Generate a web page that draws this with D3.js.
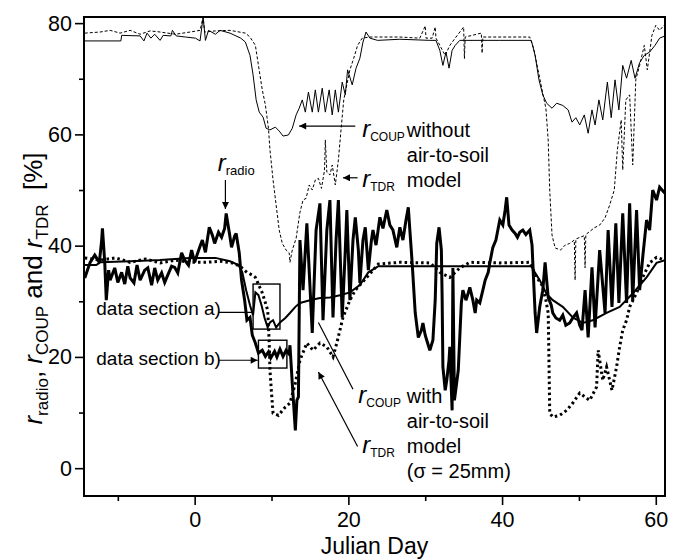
<!DOCTYPE html>
<html>
<head>
<meta charset="utf-8">
<script src="https://cdn.jsdelivr.net/npm/d3@7"></script>
<style>
  body { margin: 0; background: #fff; }
  text { font-family: "Liberation Sans", Arial, sans-serif; fill: #000; }
</style>
</head>
<body>
<div id="chart"></div>
<script>
// tick values
const xMajor = [0, 20, 40, 60], xMinor = [-10, 10, 30, 50];
const yMajor = [0, 20, 40, 60, 80], yMinor = [10, 30, 50, 70];

// r_COUP without air-to-soil model (thin solid, top)
const coupDry = [[-14.3,76.8],[-9.6,76.8],[-9.5,77.8],[-7.1,77.7],[-6.6,76.8],[-6.2,78.2],[-5.7,77.3],[-5.2,78.0],[-4.5,76.9],[-4.1,77.8],[-3.1,77.7],[-2.9,78.7],[-2.4,77.7],[-1.2,77.5],[0.1,77.3],[0.7,76.8],[1.1,81.1],[1.4,76.9],[1.8,78.7],[2.7,78.0],[3.3,78.7],[4.6,78.2],[6.0,77.3],[6.6,76.6],[7.2,74.2],[7.6,70.7],[8.0,66.2],[8.4,64.0],[8.9,63.1],[9.3,61.1],[9.8,60.8],[10.5,61.3],[11.0,60.6],[11.5,59.7],[12.2,59.9],[12.7,61.1],[13.2,63.5],[13.6,64.7],[14.0,66.2],[14.4,64.0],[14.8,67.6],[15.3,64.0],[15.7,68.0],[16.1,64.0],[16.6,68.3],[17.0,64.0],[17.5,68.0],[17.9,63.5],[18.3,68.0],[18.7,64.0],[19.2,69.4],[19.6,67.1],[19.9,71.6],[20.5,68.9],[21.0,71.9],[21.5,73.7],[21.9,76.6],[22.3,78.4],[22.8,77.3],[23.8,76.9],[26.7,77.1],[30.6,76.9],[31.4,76.9],[31.9,75.1],[32.3,72.4],[32.7,74.8],[33.1,71.9],[33.5,75.1],[33.9,76.0],[34.5,76.9],[39.7,76.9],[43.8,76.9],[44.3,74.2],[44.8,69.8],[45.3,67.1],[45.8,65.6],[46.5,64.7],[47.1,65.6],[47.9,65.2],[48.6,64.4],[49.1,62.2],[49.6,63.0],[50.1,61.7],[50.7,63.5],[51.2,60.2],[51.7,64.4],[52.1,61.7],[52.6,66.2],[53.1,62.6],[53.7,69.4],[54.2,63.0],[54.7,69.8],[55.2,64.4],[55.7,72.4],[56.2,70.1],[56.8,73.3],[57.3,70.1],[57.9,72.9],[58.5,74.2],[59.2,74.8],[59.9,76.0],[60.5,77.3],[61.2,77.7]];

// r_TDR (thin dashed, top)
const tdrTop = [[-14.3,78.2],[-12.3,78.4],[-11.0,78.7],[-9.7,78.2],[-8.4,78.7],[-7.1,78.0],[-5.8,78.6],[-4.5,78.4],[-2.5,78.0],[-0.6,78.4],[0.7,78.7],[1.1,81.1],[1.3,78.4],[2.7,78.6],[4.6,78.7],[6.6,78.2],[7.2,77.5],[7.9,76.0],[8.3,72.4],[8.8,68.0],[9.2,65.3],[9.6,61.1],[9.8,57.2],[10.2,51.8],[10.6,47.3],[11.0,42.8],[11.4,40.4],[11.9,39.2],[12.3,38.7],[12.4,37.0],[12.7,39.2],[13.2,41.3],[13.7,46.0],[14.1,48.2],[14.5,48.5],[14.9,50.9],[15.3,50.0],[15.7,51.8],[16.1,52.1],[16.5,50.3],[16.9,53.6],[17.0,59.0],[17.2,53.2],[17.6,52.7],[17.9,54.5],[18.3,50.9],[18.7,55.4],[19.1,61.7],[19.4,66.2],[19.8,68.9],[20.2,71.6],[20.7,73.7],[21.2,76.0],[21.8,77.3],[22.8,77.5],[24.1,77.5],[26.7,77.5],[29.3,77.3],[30.0,79.5],[30.1,77.3],[30.9,77.3],[31.3,79.3],[31.4,77.3],[31.9,76.0],[32.6,74.2],[33.2,76.0],[33.9,77.3],[35.0,79.3],[35.1,73.6],[35.2,77.5],[37.3,78.2],[37.4,74.6],[37.5,77.5],[43.6,77.5],[44.1,75.5],[44.7,71.5],[45.2,68.0],[45.7,64.7],[46.0,59.0],[46.2,50.0],[46.5,41.9],[46.9,39.6],[47.6,39.2],[48.2,40.1],[48.8,40.4],[49.4,41.0],[49.5,33.8],[49.6,41.2],[50.7,41.8],[50.8,36.0],[50.9,42.0],[52.0,43.2],[52.7,43.7],[53.4,45.0],[54.0,47.3],[54.6,50.0],[55.0,57.2],[55.5,62.6],[55.7,53.6],[56.1,66.2],[56.6,67.1],[57.0,54.5],[57.4,69.8],[57.9,72.4],[58.5,76.0],[58.9,71.6],[59.5,77.8],[60.0,79.6],[60.5,78.7],[61.2,79.8]];

// r_radio (thick solid)
const radio = [[-14.3,34.2],[-13.6,37.0],[-13.0,38.3],[-12.4,37.0],[-12.1,41.0],[-12.0,43.1],[-11.7,37.0],[-11.5,30.2],[-11.2,35.6],[-11.0,33.8],[-10.4,36.0],[-10.0,33.4],[-9.5,35.2],[-9.1,33.1],[-8.7,36.3],[-8.4,34.2],[-7.9,33.3],[-7.5,36.5],[-7.1,33.8],[-6.5,35.6],[-6.1,36.0],[-5.6,32.9],[-5.2,36.0],[-4.8,33.8],[-4.3,35.1],[-3.9,33.4],[-3.5,34.7],[-3.0,36.3],[-2.6,36.1],[-2.2,35.1],[-1.7,38.7],[-1.3,37.4],[-0.8,36.5],[-0.4,39.2],[0.0,37.0],[0.3,38.3],[0.7,39.9],[1.0,41.0],[1.4,38.8],[1.9,43.3],[2.3,41.9],[2.6,40.4],[3.1,42.4],[3.5,41.5],[3.9,43.1],[4.1,45.8],[4.5,42.4],[4.8,39.7],[5.2,41.7],[5.4,42.2],[5.8,38.7],[6.1,33.8],[6.5,30.2],[6.8,26.6],[7.2,27.1],[7.5,23.9],[7.9,22.5],[8.3,20.7],[8.8,21.2],[9.2,20.1],[9.6,20.9],[9.9,19.8],[10.4,21.0],[10.7,20.0],[11.1,21.4],[11.5,20.1],[11.9,21.2],[12.3,20.5],[12.4,22.1],[12.7,15.3],[13.1,6.8],[13.3,12.2],[13.5,12.8],[13.7,41.0],[14.1,32.0],[14.6,44.0],[15.3,24.3],[15.8,42.8],[16.3,47.6],[16.7,26.6],[17.2,42.8],[17.6,48.2],[18.0,27.1],[18.4,41.0],[18.7,48.2],[19.2,27.1],[19.6,39.2],[19.8,46.4],[20.2,30.2],[20.6,41.0],[20.9,45.1],[21.3,39.2],[21.5,33.3],[21.9,41.0],[22.2,43.3],[22.6,35.6],[23.0,41.0],[23.2,42.8],[23.6,40.1],[24.1,45.1],[24.5,43.1],[25.0,46.4],[25.4,43.7],[25.8,42.8],[26.3,39.7],[26.7,43.3],[27.1,41.0],[27.5,44.6],[27.8,46.9],[28.0,42.8],[28.3,36.9],[28.7,27.9],[29.1,23.5],[29.5,24.8],[29.7,26.1],[30.0,23.9],[30.2,23.0],[30.6,21.2],[31.0,23.0],[31.3,30.2],[31.5,40.4],[31.8,43.3],[32.1,39.2],[32.2,30.7],[32.3,18.2],[32.6,14.0],[32.8,15.8],[33.1,19.4],[33.2,21.8],[33.5,10.4],[33.6,36.0],[33.8,12.2],[34.3,17.6],[34.7,29.7],[34.9,32.0],[35.3,30.2],[35.6,31.5],[35.8,32.5],[36.2,30.2],[36.5,27.9],[36.7,30.2],[37.1,29.7],[37.5,32.0],[37.8,33.8],[38.2,35.2],[38.4,36.9],[38.8,39.7],[39.2,41.0],[39.7,44.6],[40.1,43.7],[40.4,46.4],[40.6,48.7],[40.9,43.7],[41.3,42.8],[41.7,42.2],[42.0,41.5],[42.3,42.4],[42.7,42.8],[43.1,42.0],[43.6,42.8],[43.9,40.1],[44.0,36.9],[44.3,27.9],[44.5,24.3],[44.9,29.0],[45.3,32.0],[45.6,37.0],[46.0,30.7],[46.4,29.3],[46.6,27.9],[47.0,27.0],[47.5,26.6],[47.9,27.5],[48.3,25.7],[48.8,26.1],[49.2,27.0],[49.7,27.9],[50.1,25.7],[50.4,24.8],[50.8,32.0],[51.2,23.5],[51.7,36.1],[52.1,25.3],[52.7,39.2],[53.4,27.9],[53.8,42.8],[54.3,29.0],[54.8,44.0],[55.2,29.7],[55.7,45.8],[56.2,29.7],[56.6,47.6],[57.0,30.2],[57.5,46.4],[57.9,32.0],[58.3,37.9],[58.8,44.6],[59.2,42.8],[59.6,50.0],[60.1,48.2],[60.5,50.5],[61.2,49.4]];

// r_COUP with air-to-soil model (medium solid)
const coupWet = [[-14.3,36.5],[-12.8,36.5],[-12.3,37.0],[-8.4,37.2],[-4.5,37.4],[-0.6,37.8],[2.7,37.8],[4.6,37.2],[5.7,36.5],[6.2,35.2],[6.7,32.0],[7.2,29.3],[7.6,27.5],[7.9,31.6],[8.3,31.1],[8.7,29.3],[9.1,27.0],[9.5,25.3],[9.8,26.2],[10.2,26.6],[10.6,25.3],[11.1,26.2],[11.8,27.0],[12.4,27.9],[13.1,29.0],[13.7,29.7],[15.0,30.2],[16.3,30.6],[17.6,30.7],[18.9,31.1],[20.2,31.6],[21.5,32.9],[22.6,35.2],[23.9,36.3],[29.4,36.3],[37.1,36.3],[43.8,36.3],[44.3,35.1],[44.9,33.8],[45.8,31.3],[46.6,30.2],[47.9,29.0],[49.2,27.1],[50.5,26.1],[51.8,26.6],[53.6,27.9],[55.3,29.0],[57.0,31.4],[58.8,34.3],[60.1,36.9],[61.2,37.4]];

// r_TDR (thick dotted, bottom)
const tdrLow = [[-14.3,37.8],[-12.3,37.4],[-10.3,37.8],[-8.4,37.0],[-6.4,37.6],[-4.5,36.9],[-2.5,37.4],[-0.6,37.0],[1.4,37.0],[3.3,37.2],[4.9,36.9],[5.9,36.3],[6.8,35.2],[7.5,34.7],[7.9,34.3],[8.8,31.5],[9.5,28.4],[9.6,25.7],[9.7,22.5],[9.8,17.6],[10.0,13.5],[10.2,9.9],[10.9,9.5],[11.8,11.0],[12.4,11.7],[13.1,15.3],[13.7,19.4],[14.6,22.5],[15.4,21.2],[16.3,22.5],[17.2,21.8],[18.0,20.0],[18.5,22.5],[19.3,27.1],[20.2,30.2],[20.9,32.0],[22.4,34.3],[23.9,36.7],[26.7,37.0],[30.6,36.9],[31.9,35.2],[33.2,34.3],[34.5,36.0],[35.8,37.0],[39.7,36.9],[43.6,37.0],[44.5,34.3],[45.2,32.9],[45.7,30.2],[46.0,27.9],[46.1,19.4],[46.2,9.9],[46.6,9.2],[47.5,9.5],[48.4,10.4],[49.2,11.7],[50.1,13.5],[50.8,12.8],[51.4,12.2],[52.3,14.6],[52.5,21.2],[53.1,15.8],[53.6,18.2],[54.3,14.0],[54.9,18.2],[55.3,21.8],[55.7,24.8],[56.2,26.6],[56.6,29.0],[57.5,31.5],[58.3,34.3],[59.2,36.9],[60.1,37.9],[61.2,37.4]];

const width = 675, height = 560;
const x = d3.scaleLinear().domain([-14.4, 61.2]).range([84, 665]);
const y = d3.scaleLinear().domain([-5, 81.1]).range([496, 17]);

const svg = d3.select("#chart").append("svg")
    .attr("width", width)
    .attr("height", height);

svg.append("defs").append("clipPath")
    .attr("id", "plot")
  .append("rect")
    .attr("x", x.range()[0]).attr("y", y.range()[1])
    .attr("width", x.range()[1] - x.range()[0])
    .attr("height", y.range()[0] - y.range()[1]);

svg.select("defs").append("marker")
    .attr("id", "arrow")
    .attr("viewBox", "0 0 10 10")
    .attr("refX", 10).attr("refY", 5)
    .attr("markerWidth", 11).attr("markerHeight", 7)
    .attr("markerUnits", "userSpaceOnUse")
    .attr("orient", "auto")
  .append("path")
    .attr("d", "M0,0L10,5L0,10Z")
    .attr("fill", "#000");

// axes
const xAxis = g => g
    .attr("transform", `translate(0,${y.range()[0]})`)
    .call(d3.axisBottom(x).tickValues(xMajor).tickSize(9).tickPadding(7).tickFormat(d3.format("d")))
    .call(g => g.select(".domain").remove());
const xAxisMinor = g => g
    .attr("transform", `translate(0,${y.range()[0]})`)
    .call(d3.axisBottom(x).tickValues(xMinor).tickSize(5).tickFormat(""))
    .call(g => g.select(".domain").remove());
const yAxis = g => g
    .attr("transform", `translate(${x.range()[0]},0)`)
    .call(d3.axisLeft(y).tickValues(yMajor).tickSize(9).tickPadding(3).tickFormat(d3.format("d")))
    .call(g => g.select(".domain").remove());
const yAxisMinor = g => g
    .attr("transform", `translate(${x.range()[0]},0)`)
    .call(d3.axisLeft(y).tickValues(yMinor).tickSize(5).tickFormat(""))
    .call(g => g.select(".domain").remove());

svg.append("g").attr("class", "x-axis").call(xAxis);
svg.append("g").call(xAxisMinor);
svg.append("g").attr("class", "y-axis").call(yAxis);
svg.append("g").call(yAxisMinor);

svg.selectAll(".tick line").attr("stroke", "#000").attr("stroke-width", 1.6);
svg.selectAll(".tick text")
    .attr("font-size", 21.5)
    .attr("font-family", "'Liberation Sans', Arial, sans-serif")
    .attr("fill", "#000");

// series
const line = d3.line().x(d => x(d[0])).y(d => y(d[1]));
const lines = svg.append("g").attr("clip-path", "url(#plot)").attr("fill", "none").attr("stroke", "#000");

lines.append("path").datum(coupDry).attr("d", line).attr("stroke-width", 1);
lines.append("path").datum(tdrTop).attr("d", line).attr("stroke-width", 1).attr("stroke-dasharray", "3,2");
lines.append("path").datum(tdrLow).attr("d", line).attr("stroke-width", 3).attr("stroke-dasharray", "2.5,3");
lines.append("path").datum(coupWet).attr("d", line).attr("stroke-width", 2);
lines.append("path").datum(radio).attr("d", line).attr("stroke-width", 3).attr("stroke-linejoin", "miter").attr("stroke-miterlimit", 3);

// frame
svg.append("rect")
    .attr("x", x.range()[0]).attr("y", y.range()[1])
    .attr("width", x.range()[1] - x.range()[0])
    .attr("height", y.range()[0] - y.range()[1])
    .attr("fill", "none").attr("stroke", "#000").attr("stroke-width", 2);

// text helper: italic r with subscript
function rText(g, px, py, sub, size, subSize, rest) {
  const t = g.append("text").attr("x", px).attr("y", py).attr("font-size", size);
  t.append("tspan").attr("font-style", "italic").text("r");
  t.append("tspan").attr("font-size", subSize).attr("dy", 4).text(sub);
  if (rest) t.append("tspan").attr("dy", -4).text(rest);
  return t;
}

const ann = svg.append("g");
const plain = (px, py, s, size = 20) => ann.append("text").attr("x", px).attr("y", py).attr("font-size", size).text(s);
const arrow = (d0, v0, d1, v1, head) => ann.append("line")
    .attr("x1", x(d0)).attr("y1", y(v0)).attr("x2", x(d1)).attr("y2", y(v1))
    .attr("stroke", "#000").attr("stroke-width", 1.2)
    .attr("marker-end", head ? "url(#arrow)" : null);

// r_radio
rText(ann, x(3.0), y(53.4), "radio", 24, 13);
arrow(4.0, 51.8, 4.0, 46.6, true);

// r_COUP without model
arrow(20.9, 61.5, 13.6, 61.5, true);
rText(ann, x(21.8), y(59.5), "COUP", 24, 12);
plain(x(27.6), y(59.5), "without");
plain(x(27.6), y(55.0), "air-to-soil");
plain(x(27.6), y(50.5), "model");
arrow(21.2, 52.2, 19.3, 52.2, true);
rText(ann, x(21.8), y(50.5), "TDR", 24, 12);

// data sections
plain(x(-12.8), y(27.5), "data section a)", 19);
arrow(3.1, 28.0, 7.6, 28.0, false);
plain(x(-12.8), y(18.5), "data section b)", 19);
arrow(3.1, 19.4, 8.2, 19.4, true);
const box = (d0, d1, v0, v1) => ann.append("rect")
    .attr("x", x(d0)).attr("y", y(v1))
    .attr("width", x(d1) - x(d0)).attr("height", y(v0) - y(v1))
    .attr("fill", "none").attr("stroke", "#000").attr("stroke-width", 1.4);
box(7.6, 11.1, 25.0, 33.1);
box(8.3, 12.0, 18.0, 23.0);

// r_COUP with model
arrow(20.6, 14.2, 16.1, 26.2, false);
rText(ann, x(21.3), y(11.7), "COUP", 24, 12);
plain(x(27.6), y(11.7), "with");
plain(x(27.6), y(7.2), "air-to-soil");
plain(x(27.6), y(2.7), "model");
plain(x(27.6), y(-1.8), "(\u03c3 = 25mm)");
arrow(21.2, 3.9, 16.1, 17.3, true);
rText(ann, x(21.8), y(2.7), "TDR", 24, 12);

// axis titles
svg.append("text")
    .attr("x", (x.range()[0] + x.range()[1]) / 2)
    .attr("y", 554)
    .attr("text-anchor", "middle")
    .attr("font-size", 23)
    .text("Julian Day");

const yl = svg.append("text")
    .attr("transform", `translate(42,${(y.range()[0] + y.range()[1]) / 2 + 32}) rotate(-90)`)
    .attr("text-anchor", "middle")
    .attr("font-size", 26)
    .attr("xml:space", "preserve");
[["r", "i"], ["radio", "s"], [", ", "n"], ["r", "i"], ["COUP", "s"], [" and ", "n"], ["r", "i"], ["TDR", "s"], ["  [%]", "n"]]
  .reduce((low, [s, k]) => {
    const ts = yl.append("tspan").text(s);
    if (k === "i") ts.attr("font-style", "italic");
    if (k === "s") { ts.attr("font-size", 17).attr("dy", low ? 0 : 6); return true; }
    if (low) ts.attr("dy", -6);
    return false;
  }, false);
</script>
</body>
</html>
